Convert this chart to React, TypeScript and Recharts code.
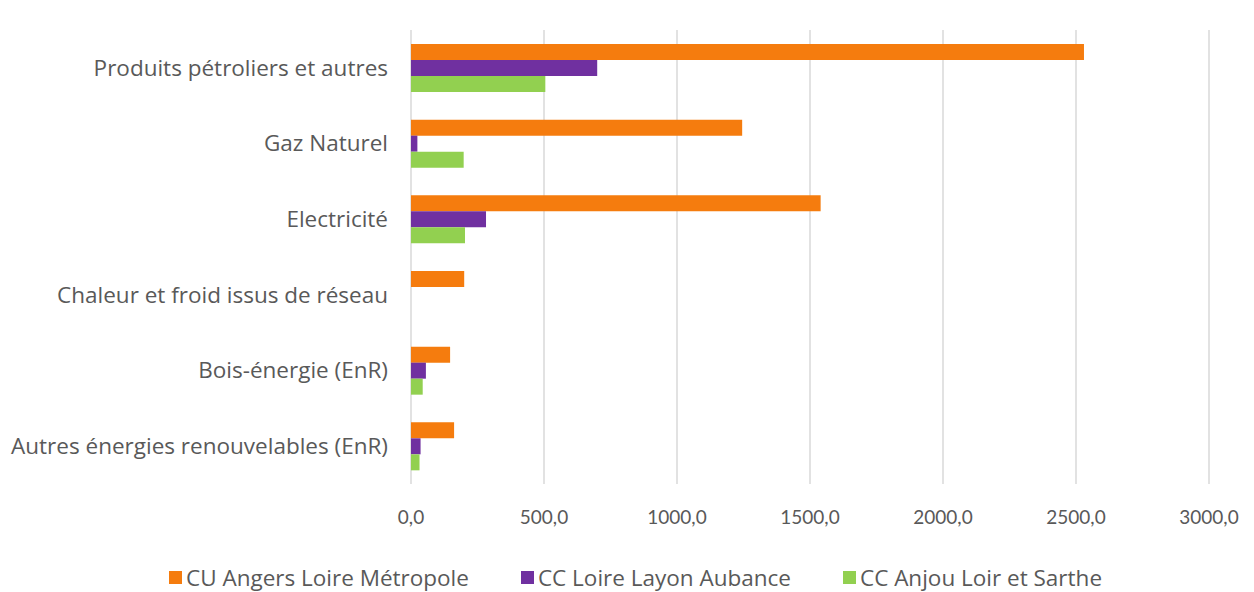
import React from 'react';
import { BarChart, Bar, XAxis, YAxis, CartesianGrid, Legend } from 'recharts';

const categories = [
    'Produits pétroliers et autres',
    'Gaz Naturel',
    'Electricité',
    'Chaleur et froid issus de réseau',
    'Bois-énergie (EnR)',
    'Autres énergies renouvelables (EnR)',
];
const angers = [2530, 1245, 1540, 200, 147, 162];
const layon = [700, 24, 282, 0, 56, 36];
const anjou = [505, 198, 203, 0, 44, 32];
const xTicks = [0, 500, 1000, 1500, 2000, 2500, 3000];

const series = [
    { key: 'angers', name: 'CU Angers Loire Métropole', color: '#F57C0E' },
    { key: 'layon', name: 'CC Loire Layon Aubance', color: '#7030A0' },
    { key: 'anjou', name: 'CC Anjou Loir et Sarthe', color: '#92D050' },
];

const data = categories.map((name, i) => ({
    name,
    angers: angers[i],
    layon: layon[i],
    anjou: anjou[i],
}));

const tickFont = 'Lato, "Open Sans", sans-serif';
const labelFont = '"Open Sans", Lato, sans-serif';
const textColor = '#595959';

const LegendContent = () => (
    <div style={{ display: 'flex', justifyContent: 'center', alignItems: 'center', gap: 52, height: 30, fontFamily: labelFont, fontSize: 22.5, color: textColor, paddingLeft: 62 }}>
        {series.map(s => (
            <div key={s.key} style={{ display: 'flex', alignItems: 'center' }}>
                <span style={{ width: 13, height: 13, background: s.color, display: 'inline-block', marginRight: 4 }} />
                <span>{s.name}</span>
            </div>
        ))}
    </div>
);

export default function App() {
    return (
        <div style={{ position: 'absolute', top: 0, left: 0, width: 1254, height: 592, background: '#fff' }}>
            <BarChart
                width={1254}
                height={592}
                data={data}
                layout="vertical"
                barGap={0}
                barCategoryGap={14}
                margin={{ top: 30, right: 45, left: 0, bottom: 0 }}
            >
                <CartesianGrid horizontal={false} stroke="#d9d9d9" strokeWidth={1.5} />
                <XAxis
                    type="number"
                    domain={[0, 3000]}
                    ticks={xTicks}
                    tickFormatter={(v: number) => v.toFixed(1).replace('.', ',')}
                    axisLine={false}
                    tickLine={false}
                    tickSize={0}
                    tickMargin={27}
                    height={78}
                    tick={{ fill: textColor, fontSize: 19, fontFamily: tickFont }}
                />
                <YAxis
                    type="category"
                    dataKey="name"
                    width={411}
                    axisLine={false}
                    tickLine={false}
                    tickSize={0}
                    tickMargin={23}
                    tick={{ fill: textColor, fontSize: 22.5, fontFamily: labelFont }}
                />
                <Legend verticalAlign="bottom" content={<LegendContent />} wrapperStyle={{ height: 30 }} />
                {series.map(s => (
                    <Bar key={s.key} dataKey={s.key} name={s.name} fill={s.color} barSize={16} isAnimationActive={false} />
                ))}
            </BarChart>
        </div>
    );
}
